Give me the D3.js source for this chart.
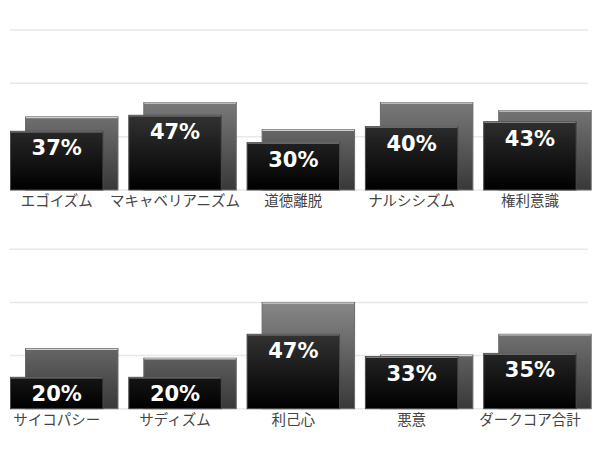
<!DOCTYPE html>
<html>
<head>
<meta charset="utf-8">
<script src="https://cdn.jsdelivr.net/npm/d3@7"></script>
<style>
  body { margin: 0; background: #fff; }
</style>
</head>
<body>
<div id="chart"></div>
<script>
const topCategories = ["エゴイズム", "マキャベリアニズム", "道徳離脱", "ナルシシズム", "権利意識"];
const topValues = [37, 47, 30, 40, 43];
const topBackValues = [46, 55, 38, 55, 50];

const bottomCategories = ["サイコパシー", "サディズム", "利己心", "悪意", "ダークコア合計"];
const bottomValues = [20, 20, 47, 33, 35];
const bottomBackValues = [38, 32, 67, 34, 47];

const gridValues = [0, 33.3, 66.7, 100];

const width = 597, height = 470;
const svg = d3.select("#chart").append("svg")
  .attr("width", width).attr("height", height)
  .style("font-family", "'Noto Sans CJK JP', sans-serif");

const defs = svg.append("defs");

function drawPanel(id, categories, values, backValues, top, bottom) {
  const x = d3.scaleBand().domain(categories).range([10, 601.5]).paddingInner(0).paddingOuter(0);
  const y = d3.scaleLinear().domain([0, 100]).range([bottom, top]);
  const barW = x.bandwidth() * 0.79;
  const offset = x.bandwidth() * 0.127;

  // gradients span the whole plot height so short bars stay darker
  const gFront = defs.append("linearGradient").attr("id", `front-${id}`)
    .attr("gradientUnits", "userSpaceOnUse")
    .attr("x1", 0).attr("x2", 0).attr("y1", y(0)).attr("y2", y(100));
  gFront.append("stop").attr("offset", 0).attr("stop-color", "#000");
  gFront.append("stop").attr("offset", 1).attr("stop-color", "#6c6c6c");

  const gBack = defs.append("linearGradient").attr("id", `back-${id}`)
    .attr("gradientUnits", "userSpaceOnUse")
    .attr("x1", 0).attr("x2", 0).attr("y1", y(0)).attr("y2", y(100));
  gBack.append("stop").attr("offset", 0).attr("stop-color", "#383838");
  gBack.append("stop").attr("offset", 1).attr("stop-color", "#b0b0b0");

  const g = svg.append("g");

  g.selectAll(".grid").data(gridValues).join("line")
    .attr("x1", 10).attr("x2", 587.7)
    .attr("y1", d => y(d)).attr("y2", d => y(d))
    .attr("stroke", "#e8e8e8").attr("stroke-width", 1.5);

  // back bars
  const back = g.selectAll(".back").data(categories).join("g");
  back.append("rect")
    .attr("x", d => x(d) + offset + 0.5)
    .attr("y", (d, i) => y(backValues[i]) + 0.5)
    .attr("width", barW - 1)
    .attr("height", (d, i) => y(0) - y(backValues[i]) - 0.5)
    .attr("fill", `url(#back-${id})`)
    .attr("stroke", "#6a6a6a");
  back.append("line")
    .attr("x1", d => x(d) + offset + 1).attr("x2", d => x(d) + offset + barW - 1)
    .attr("y1", (d, i) => y(backValues[i]) + 1.2).attr("y2", (d, i) => y(backValues[i]) + 1.2)
    .attr("stroke", "#cfcfcf").attr("stroke-width", 1.2);

  // front bars
  const front = g.selectAll(".front").data(categories).join("g");
  front.append("rect")
    .attr("x", d => x(d) + 0.5)
    .attr("y", (d, i) => y(values[i]) + 0.5)
    .attr("width", barW - 1)
    .attr("height", (d, i) => y(0) - y(values[i]) - 0.5)
    .attr("fill", `url(#front-${id})`)
    .attr("stroke", "#4a4a4a");
  front.append("line")
    .attr("x1", d => x(d) + 1).attr("x2", d => x(d) + barW - 1)
    .attr("y1", (d, i) => y(values[i]) + 1.2).attr("y2", (d, i) => y(values[i]) + 1.2)
    .attr("stroke", "#7c7c7c").attr("stroke-width", 1.2);

  front.append("text")
    .attr("x", d => x(d) + barW / 2)
    .attr("y", (d, i) => y(values[i]) + 24.5)
    .attr("text-anchor", "middle")
    .attr("fill", "#fff")
    .style("font-family", "'DejaVu Sans', sans-serif")
    .style("font-weight", "bold")
    .style("font-size", "21px")
    .text((d, i) => values[i] + "%");

  g.selectAll(".cat").data(categories).join("text")
    .attr("x", d => x(d) + barW / 2)
    .attr("y", y(0) + 16)
    .attr("text-anchor", "middle")
    .attr("fill", "#444")
    .style("font-size", "14.5px")
    .text(d => d);
}

drawPanel("top", topCategories, topValues, topBackValues, 30, 190);
drawPanel("bottom", bottomCategories, bottomValues, bottomBackValues, 249.3, 408.7);
</script>
</body>
</html>
